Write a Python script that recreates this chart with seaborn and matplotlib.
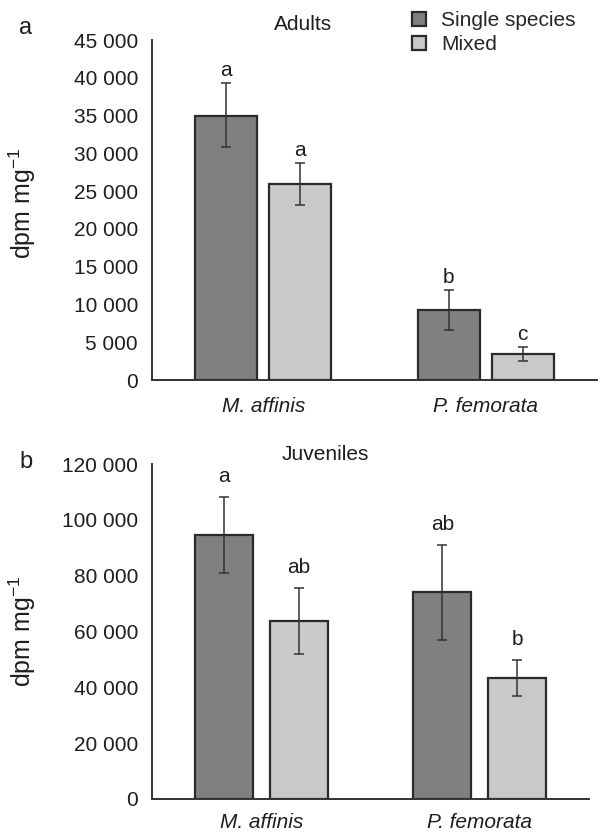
import matplotlib
matplotlib.use("Agg")
import matplotlib.pyplot as plt
import seaborn as sns
import pandas as pd
import numpy as np

sns.set_theme(style="white")
plt.rcParams['font.family'] = ['Liberation Sans', 'DejaVu Sans']
plt.rcParams['mathtext.fontset'] = 'custom'
plt.rcParams['mathtext.rm'] = 'Liberation Sans'
plt.rcParams['mathtext.it'] = 'Liberation Sans:italic'
plt.rcParams['mathtext.default'] = 'regular'

species = ["M. affinis", "P. femorata"]
treatments = ["Single species", "Mixed"]

adult_single = [35000, 9200]
adult_mixed = [26000, 3450]
adult_single_lo = [30850, 6600]
adult_single_hi = [39250, 11950]
adult_mixed_lo = [23150, 2470]
adult_mixed_hi = [28750, 4420]
adult_letters_single = ["a", "b"]
adult_letters_mixed = ["a", "c"]

juv_single = [94400, 74000]
juv_mixed = [63700, 43500]
juv_single_lo = [80800, 57100]
juv_single_hi = [108300, 90900]
juv_mixed_lo = [51800, 36900]
juv_mixed_hi = [75500, 49900]
juv_letters_single = ["a", "ab"]
juv_letters_mixed = ["ab", "b"]

adult_yticks = [0, 5000, 10000, 15000, 20000, 25000, 30000, 35000, 40000, 45000]
juv_yticks = [0, 20000, 40000, 60000, 80000, 100000, 120000]

palette = {"Single species": "#808082", "Mixed": "#c8c9cb"}
EDGE = "#2a2a2a"
TXT = "#1e1e1e"
FS = 15


def fmt(v):
    return f"{v:,}".replace(",", " ")


def panel(ax, single, mixed, s_lo, s_hi, m_lo, m_hi, l_s, l_m, yticks, width, gap,
          letter_off, xpad):
    df = pd.DataFrame({
        "species": species + species,
        "treatment": [treatments[0]] * 2 + [treatments[1]] * 2,
        "value": list(single) + list(mixed),
    })
    sns.barplot(data=df, x="species", y="value", hue="treatment", order=species,
                hue_order=treatments, palette=palette, errorbar=None, width=width,
                gap=gap, edgecolor=EDGE, linewidth=1.6, ax=ax, legend=True, zorder=2)
    patches = [p for p in ax.patches if p.get_height() > 0][:4]
    xs = [p.get_x() + p.get_width() / 2 for p in patches]
    vals = list(single) + list(mixed)
    lo = list(s_lo) + list(m_lo)
    hi = list(s_hi) + list(m_hi)
    letters = list(l_s) + list(l_m)
    for x, v, a, b, t in zip(xs, vals, lo, hi, letters):
        ax.errorbar([x], [v], yerr=[[v - a], [b - v]], fmt="none", ecolor="#333333",
                    elinewidth=1.1, capsize=3.3, capthick=1.1, zorder=3)
        ax.annotate(t, (x, b), xytext=(0, letter_off), textcoords="offset pixels",
                    ha="center", va="bottom", fontsize=FS, color=TXT)
    ax.set_xlim(-0.5, 1.5)
    ax.set_ylim(0, yticks[-1])
    ax.set_yticks(yticks)
    ax.set_yticklabels([fmt(v) for v in yticks], fontsize=FS, color=TXT)
    ax.set_xticks([0, 1])
    ax.set_xticklabels(species, fontsize=FS, style="italic", color=TXT)
    ax.set_xticks([-0.5, 0.5, 1.5], minor=True)
    ax.tick_params(axis="x", which="major", length=0, pad=xpad)
    ax.tick_params(axis="x", which="minor", direction="inout", length=7, width=1.3, color="#333333")
    ax.tick_params(axis="y", which="major", direction="in", length=4, width=1.1, color="#333333", pad=10)
    ax.set_xlabel("")
    ax.set_ylabel("dpm mg$^{-1}$", fontsize=18, color=TXT)
    for s in ["top", "right"]:
        ax.spines[s].set_visible(False)
    for s in ["left", "bottom"]:
        ax.spines[s].set_color("#333333")
        ax.spines[s].set_linewidth(1.4)


fig = plt.figure(figsize=(6, 8.33), dpi=100)
ax1 = fig.add_axes([152 / 600, 1 - 380 / 833, 445 / 600, 340 / 833])
ax2 = fig.add_axes([152 / 600, 1 - 799 / 833, 437 / 600, 335 / 833])

panel(ax1, adult_single, adult_mixed, adult_single_lo, adult_single_hi,
      adult_mixed_lo, adult_mixed_hi, adult_letters_single, adult_letters_mixed,
      adult_yticks, 0.666, 0.16, 3, 12)
panel(ax2, juv_single, juv_mixed, juv_single_lo, juv_single_hi,
      juv_mixed_lo, juv_mixed_hi, juv_letters_single, juv_letters_mixed,
      juv_yticks, 0.686, 0.227, 11, 10)

ax1.yaxis.set_label_coords(-0.256, 0.52)
ax2.yaxis.set_label_coords(-0.261, 0.5)

handles, labels = ax1.get_legend_handles_labels()
ax1.legend(handles, labels, loc="upper left", bbox_to_anchor=(412 / 600, 1 - 11 / 833),
           bbox_transform=fig.transFigure, frameon=False, fontsize=FS, borderpad=0,
           handlelength=0.65, handleheight=0.65, handletextpad=0.75, labelspacing=0.25,
           borderaxespad=0)
ax2.get_legend().remove()

fig.text(303 / 600, 1 - 25 / 833, "Adults", ha="center", va="center", fontsize=FS, color=TXT)
fig.text(325 / 600, 1 - 454 / 833, "Juveniles", ha="center", va="center", fontsize=FS, color=TXT)
fig.text(26 / 600, 1 - 28 / 833, "a", ha="center", va="center", fontsize=17, color=TXT)
fig.text(26 / 600, 1 - 462 / 833, "b", ha="center", va="center", fontsize=17, color=TXT)

fig.savefig("out.png", dpi=100)
